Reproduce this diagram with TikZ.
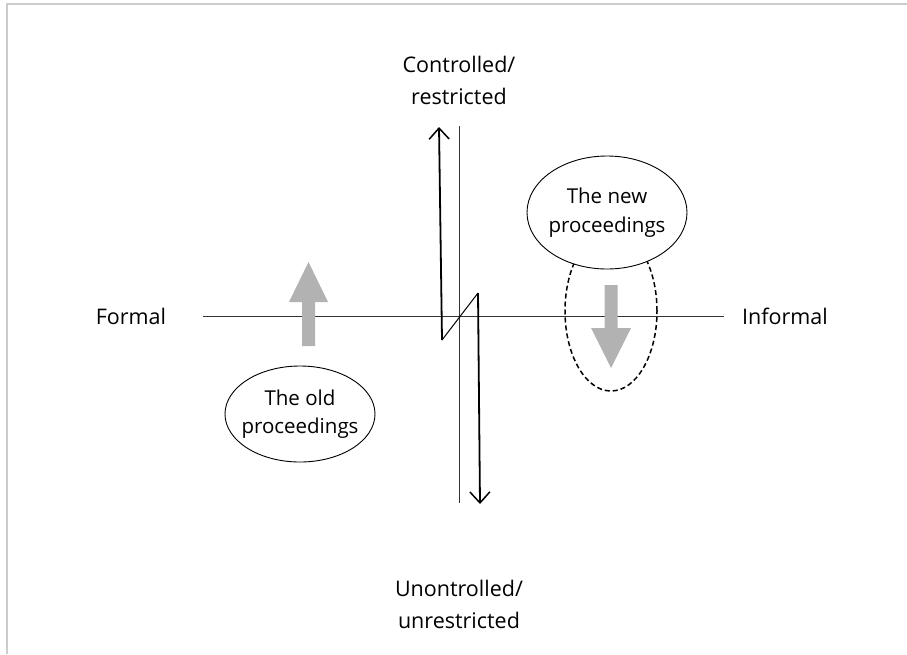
\documentclass[tikz,border=0pt]{standalone}
\usepackage{fontspec}
\setmainfont{Open Sans}
\usetikzlibrary{shapes.geometric,arrows.meta}
\begin{document}
\begin{tikzpicture}[x=1pt,y=-1pt,
  axislabel/.style={font=\fontsize{21.5}{32}\selectfont, align=center, inner sep=0pt},
  axisline/.style={line width=1pt, draw=black!80},
  stage/.style={ellipse, draw, line width=0.9pt, fill=white, inner sep=0pt},
  stagetext/.style={align=center, font=\fontsize{20.5}{28.5}\selectfont, inner sep=0pt},
  swing/.style={line width=1.8pt, -{Straight Barb[length=11pt,width=20pt,line width=1.5pt]}},
  movearrow/.style={fill=black!30, draw=none}]
  \useasboundingbox (0,0) rectangle (907,654);
  % frame edges
  \draw[line width=2pt, draw=black!20] (6.5,654) -- (6.5,4) -- (907,4);

  % axes
  \coordinate (hl) at (203,316);
  \coordinate (hr) at (724,316);
  \coordinate (vt) at (459,126);
  \coordinate (vb) at (459,503);
  \draw[axisline] (hl) -- (hr);
  \draw[axisline] (vt) -- (vb);

  % axis labels
  \node[axislabel] (formal) at (131,316) {Formal};
  \node[axislabel] (informal) at (785,316) {Informal};
  \node[axislabel] (top) at (459,80) {Controlled/\\restricted};
  \node[axislabel] (bottom) at (459,604) {Unontrolled/\\unrestricted};

  % zig-zag swing between the poles
  \coordinate (zt) at (439,127);
  \coordinate (zl) at (442,340);
  \coordinate (zr) at (478,293);
  \coordinate (zb) at (480,504);
  \draw[swing] (zl) -- (zt);
  \draw[line width=1pt] (zl) -- (zr);
  \draw[swing] (zr) -- (zb);

  % old proceedings with upward move
  \node[stage, minimum width=150pt, minimum height=96pt] (old) at (300,414) {};
  \node[stagetext] (oldtext) at (old.center) {The old\\proceedings};
  \fill[movearrow] (302,346) -- (302,302) -- (289,302) -- (308.5,262) -- (328,302)
    -- (315,302) -- (315,346) -- cycle;

  % new proceedings with downward move
  \node[ellipse, draw, dash pattern=on 5pt off 3pt, line width=1.5pt,
    minimum width=92pt, minimum height=160pt] (range) at (611,311) {};
  \node[stage, minimum width=160pt, minimum height=113pt] (new) at (607,212.5) {};
  \node[stagetext] (newtext) at (new.center) {The new\\proceedings};
  \fill[movearrow] (604.5,285) -- (604.5,328) -- (591,328) -- (611,368) -- (631,328)
    -- (617.5,328) -- (617.5,285) -- cycle;
\end{tikzpicture}
\end{document}
